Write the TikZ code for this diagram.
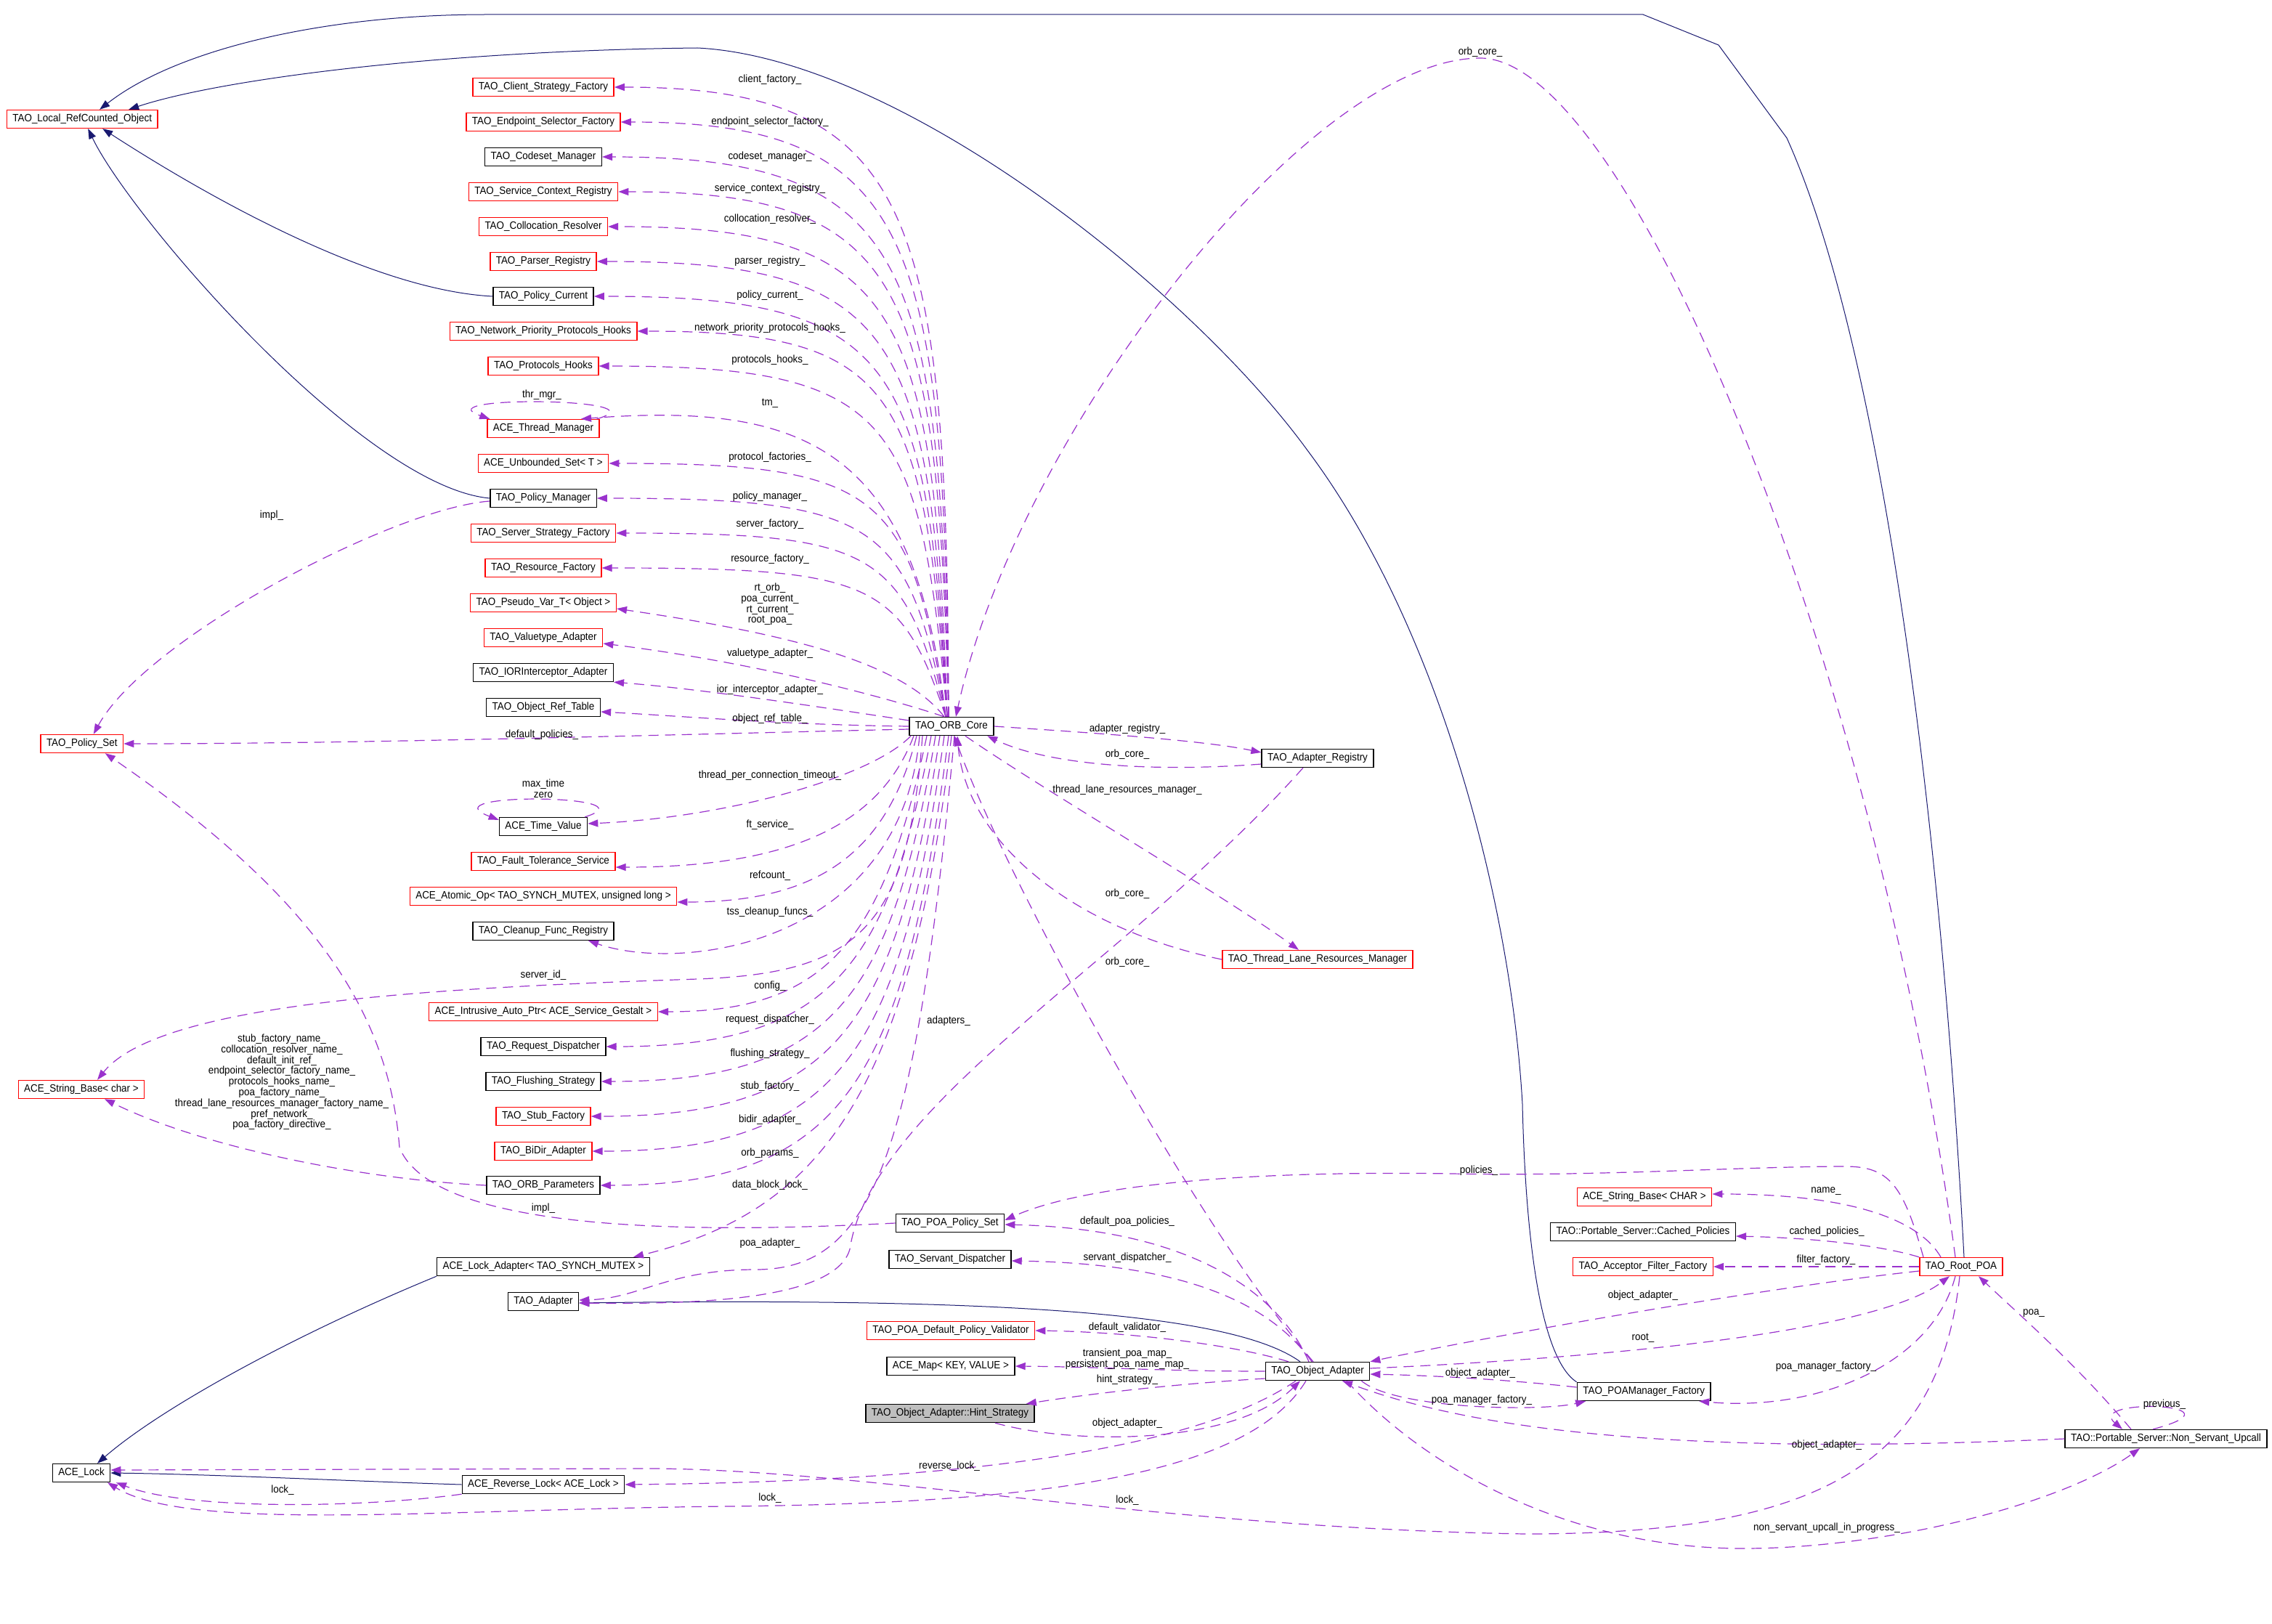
\documentclass[tikz,border=0pt]{standalone}
\usepackage{fontspec}
\newfontfamily\doxfont{Liberation Sans}[FakeStretch=0.92]
\usepackage{xcolor}
\usetikzlibrary{arrows.meta}

\definecolor{inhblue}{HTML}{191970}
\definecolor{usepurple}{HTML}{9A32CD}
\definecolor{focusgray}{HTML}{BFBFBF}

\tikzset{
	cls/.style={rectangle, draw=black, line width=0.7pt, fill=white, text=black,
		font=\doxfont\fontsize{7.3}{7.4}\selectfont, minimum height=12.5pt,
		inner xsep=4pt, inner ysep=0pt},
	undoc/.style={cls, draw=red},
	focus/.style={cls, fill=focusgray},
	lbl/.style={font=\doxfont\fontsize{7.3}{7.4}\selectfont, inner sep=0pt, align=center},
	inh/.style={draw=inhblue, line width=0.5pt, -{Stealth[length=7pt, width=5pt, inset=0pt]}},
	use/.style={draw=usepurple, line width=0.6pt, dash pattern=on 7pt off 4.5pt,
		-{Stealth[length=7pt, width=5pt, inset=0pt]}}
}

\begin{document}
\begin{tikzpicture}[x=1pt, y=-1pt]
	
	\path[use as bounding box, fill=white] (0,0) rectangle (1564,1118);
	
	\node[undoc] (lrc) at (56.6,82) {TAO\_Local\_RefCounted\_Object};
	\node[undoc] (pset) at (56.4,512) {TAO\_Policy\_Set};
	\node[undoc] (sbc) at (56,750) {ACE\_String\_Base< char >};
	\node[cls] (lock) at (56,1014) {ACE\_Lock};
	
	\node[undoc] (csf) at (374,60) {TAO\_Client\_Strategy\_Factory};
	\node[undoc] (esf) at (374,84) {TAO\_Endpoint\_Selector\_Factory};
	\node[cls] (csm) at (374,108) {TAO\_Codeset\_Manager};
	\node[undoc] (scr) at (374,132) {TAO\_Service\_Context\_Registry};
	\node[undoc] (clr) at (374,156) {TAO\_Collocation\_Resolver};
	\node[undoc] (prs) at (374,180) {TAO\_Parser\_Registry};
	\node[cls] (pcur) at (374,204) {TAO\_Policy\_Current};
	\node[undoc] (nph) at (374,228) {TAO\_Network\_Priority\_Protocols\_Hooks};
	\node[undoc] (phk) at (374,252) {TAO\_Protocols\_Hooks};
	\node[undoc] (thm) at (374,295) {ACE\_Thread\_Manager};
	\node[undoc] (ubs) at (374,319) {ACE\_Unbounded\_Set< T >};
	\node[cls] (pman) at (374,343) {TAO\_Policy\_Manager};
	\node[undoc] (ssf) at (374,367) {TAO\_Server\_Strategy\_Factory};
	\node[undoc] (rsf) at (374,391) {TAO\_Resource\_Factory};
	\node[undoc] (pvt) at (374,415) {TAO\_Pseudo\_Var\_T< Object >};
	\node[undoc] (vta) at (374,439) {TAO\_Valuetype\_Adapter};
	\node[cls] (iora) at (374,463) {TAO\_IORInterceptor\_Adapter};
	\node[cls] (ort) at (374,487) {TAO\_Object\_Ref\_Table};
	\node[cls] (tv) at (374,569) {ACE\_Time\_Value};
	\node[undoc] (fts) at (374,593) {TAO\_Fault\_Tolerance\_Service};
	\node[undoc] (aop) at (374,617) {ACE\_Atomic\_Op< TAO\_SYNCH\_MUTEX, unsigned long >};
	\node[cls] (cfr) at (374,641) {TAO\_Cleanup\_Func\_Registry};
	\node[undoc] (iap) at (374,696.5) {ACE\_Intrusive\_Auto\_Ptr< ACE\_Service\_Gestalt >};
	\node[cls] (rqd) at (374,720.5) {TAO\_Request\_Dispatcher};
	\node[cls] (fls) at (374,744.5) {TAO\_Flushing\_Strategy};
	\node[undoc] (stf) at (374,768.5) {TAO\_Stub\_Factory};
	\node[undoc] (bda) at (374,792.5) {TAO\_BiDir\_Adapter};
	\node[cls] (orbp) at (374,816) {TAO\_ORB\_Parameters};
	\node[cls] (lka) at (374,872) {ACE\_Lock\_Adapter< TAO\_SYNCH\_MUTEX >};
	\node[cls] (adp) at (374,896) {TAO\_Adapter};
	\node[cls] (rvl) at (374,1022) {ACE\_Reverse\_Lock< ACE\_Lock >};
	
	\node[cls] (orb) at (655,500) {TAO\_ORB\_Core};
	\node[cls] (pps) at (654,842) {TAO\_POA\_Policy\_Set};
	\node[cls] (svd) at (654,867) {TAO\_Servant\_Dispatcher};
	\node[undoc] (pdv) at (654.5,916) {TAO\_POA\_Default\_Policy\_Validator};
	\node[cls] (amap) at (654.5,940.5) {ACE\_Map< KEY, VALUE >};
	\node[focus] (hint) at (654,973) {TAO\_Object\_Adapter::Hint\_Strategy};
	
	\node[cls] (areg) at (907,522) {TAO\_Adapter\_Registry};
	\node[undoc] (tlrm) at (907,660.5) {TAO\_Thread\_Lane\_Resources\_Manager};
	\node[cls] (oad) at (907,944) {TAO\_Object\_Adapter};
	
	\node[undoc] (sbC) at (1132,824) {ACE\_String\_Base< CHAR >};
	\node[cls] (cpol) at (1131,848) {TAO::Portable\_Server::Cached\_Policies};
	\node[undoc] (aff) at (1131,872) {TAO\_Acceptor\_Filter\_Factory};
	\node[cls] (pmf) at (1131.6,958) {TAO\_POAManager\_Factory};
	\node[undoc] (rpoa) at (1350,872) {TAO\_Root\_POA};
	\node[cls] (nsu) at (1491,990.5) {TAO::Portable\_Server::Non\_Servant\_Upcall};
	
	
	\draw[inh] ([xshift=2pt]rpoa.north) .. controls (1338,600) and (1300,250) .. (1230,95) -- (1183,31) -- (1131,10) -- (335,10) .. controls (220,10) and (120,35) .. ([xshift=12pt]lrc.north);
	\draw[inh] (pmf.north west) .. controls (1060,935) and (1050,850) .. (1048,760) .. controls (1040,620) and (990,430) .. (900,310) .. controls (820,200) and (620,40) .. (480,33) .. controls (300,35) and (150,55) .. ([xshift=32pt]lrc.north);
	\draw[inh] (pcur.west) .. controls (260,200) and (150,140) .. ([xshift=14pt]lrc.south);
	\draw[inh] (pman.west) .. controls (250,335) and (90,150) .. ([xshift=4pt]lrc.south);
	\draw[inh] (lka.south west) .. controls (200,920) and (110,970) .. ([xshift=11pt]lock.north);
	\draw[inh] (rvl.west) .. controls (250,1020) and (150,1015) .. (lock.east);
	\draw[inh] ([xshift=-12pt]oad.north) .. controls (850,905) and (700,893) .. ([yshift=-1pt]adp.east);
	
	
	\draw[use] ([xshift=-2pt]orb.north) .. controls (652,147) and (630,60) .. (csf.east);
	\draw[use] ([xshift=-2pt]orb.north) .. controls (650,163) and (628,84) .. (esf.east);
	\draw[use] ([xshift=-2pt]orb.north) .. controls (647,179) and (626,108) .. (csm.east);
	\draw[use] ([xshift=-2pt]orb.north) .. controls (645,196) and (624,132) .. (scr.east);
	\draw[use] ([xshift=-3pt]orb.north) .. controls (643,213) and (621,156) .. (clr.east);
	\draw[use] ([xshift=-3pt]orb.north) .. controls (640,230) and (619,180) .. (prs.east);
	\draw[use] ([xshift=-3pt]orb.north) .. controls (638,248) and (617,204) .. (pcur.east);
	\draw[use] ([xshift=-3pt]orb.north) .. controls (636,266) and (615,228) .. (nph.east);
	\draw[use] ([xshift=-3pt]orb.north) .. controls (633,285) and (613,252) .. (phk.east);
	\draw[use] ([xshift=-4pt]orb.north) .. controls (630,313) and (560,276) .. ([xshift=26pt]thm.north);
	\draw[use] ([xshift=-4pt]orb.north) .. controls (627,339) and (606,319) .. (ubs.east);
	\draw[use] ([xshift=-4pt]orb.north) .. controls (625,359) and (604,343) .. (pman.east);
	\draw[use] ([xshift=-4pt]orb.north) .. controls (622,379) and (602,367) .. (ssf.east);
	\draw[use] ([xshift=-4pt]orb.north) .. controls (620,400) and (600,391) .. (rsf.east);
	\draw[use] ([xshift=-5pt]orb.north) .. controls (620,455) and (540,436) .. ([yshift=-4pt]pvt.east);
	\draw[use] ([xshift=-5pt]orb.north) .. controls (610,480) and (520,456) .. ([yshift=-4pt]vta.east);
	\draw[use] ([yshift=4pt]orb.west) .. controls (560,486) and (480,474) .. (iora.south east);
	\draw[use] (orb.west) .. controls (540,499) and (470,493) .. ([yshift=-3pt]ort.east);
	\draw[use] ([yshift=-2pt]orb.west) .. controls (450,506) and (250,512) .. (pset.east);
	
	\draw[use] ([xshift=-28pt]orb.south) .. controls (600,535) and (500,563) .. ([yshift=2pt]tv.east);
	\draw[use] ([xshift=-26pt]orb.south) .. controls (605,570) and (540,597) .. ([yshift=-4pt]fts.east);
	\draw[use] ([xshift=-24pt]orb.south) .. controls (610,590) and (560,621) .. ([yshift=-4pt]aop.east);
	\draw[use] ([xshift=-22pt]orb.south) .. controls (620,650) and (470,670) .. ([xshift=31pt]cfr.south);
	\draw[use] ([xshift=-20pt]orb.south) .. controls (625,640) and (590,670) .. (480,674) .. controls (300,680) and (110,690) .. ([xshift=11pt]sbc.north);
	\draw[use] ([xshift=-17pt]orb.south) .. controls (608,649) and (568,696.5) .. (iap.east);
	\draw[use] ([xshift=-14pt]orb.south) .. controls (611,667) and (571,720.5) .. (rqd.east);
	\draw[use] ([xshift=-11pt]orb.south) .. controls (614,685) and (574,744.5) .. (fls.east);
	\draw[use] ([xshift=-8pt]orb.south) .. controls (617,703) and (577,768.5) .. (stf.east);
	\draw[use] ([xshift=-5pt]orb.south) .. controls (620,721) and (580,792.5) .. (bda.east);
	\draw[use] ([xshift=-2pt]orb.south) .. controls (623,738.5) and (583,816) .. (orbp.east);
	\draw[use] (orb.south) .. controls (626,760) and (560,835) .. ([xshift=62pt]lka.north);
	\draw[use] ([xshift=2pt]orb.south) .. controls (630,800) and (600,874) .. (520,874) .. controls (460,874) and (440,894) .. ([yshift=1pt]adp.east);
	
	\draw[use] ([xshift=-2pt]thm.north east) .. controls (460,274) and (290,272) .. ([xshift=2pt]thm.north west);
	\draw[use] ([xshift=-2pt]tv.north east) .. controls (452,547) and (292,545) .. ([yshift=-2pt]tv.north west);
	\draw[use] ([yshift=-2pt]pman.west) .. controls (270,350) and (100,440) .. ([xshift=8pt]pset.north);
	\draw[use] (pps.west) .. controls (500,848) and (300,852) .. (275,790) .. controls (268,700) and (220,620) .. ([xshift=16pt]pset.south);
	\draw[use] (orbp.west) .. controls (250,812) and (140,790) .. ([xshift=16pt]sbc.south);
	
	\draw[use] (orb.east) .. controls (760,505) and (830,510) .. ([yshift=4pt]areg.west);
	\draw[use] ([yshift=-4pt]areg.west) .. controls (790,532) and (720,526) .. (orb.-15);
	\draw[use] ([xshift=-10pt]areg.south) .. controls (780,660) and (600,760) .. (585,860) .. controls (575,895) and (480,898) .. ([yshift=-1pt]adp.east);
	\draw[use] (orb.-35) .. controls (720,545) and (840,615) .. ([xshift=-13pt]tlrm.north);
	\draw[use] (tlrm.west) .. controls (740,640) and (665,580) .. ([xshift=4pt]orb.south);
	\draw[use] ([xshift=-3pt]oad.north) .. controls (820,840) and (690,600) .. ([xshift=2pt]orb.south);
	\draw[use] ([xshift=-4pt]rpoa.north) .. controls (1290,450) and (1120,40) .. (1019,40) .. controls (900,40) and (700,300) .. ([xshift=3pt]orb.north);
	
	\draw[use] ([xshift=-6pt]oad.north) .. controls (880,890) and (820,846) .. ([yshift=-1pt]pps.east);
	\draw[use] ([xshift=-4pt]oad.north) .. controls (880,905) and (830,870) .. ([yshift=-1pt]svd.east);
	\draw[use] ([xshift=-20pt]oad.north) .. controls (850,926) and (780,917) .. (pdv.east);
	\draw[use] (oad.west) .. controls (800,944) and (760,941) .. (amap.east);
	\draw[use] ([yshift=-5pt]oad.west) .. controls (820,952) and (760,958) .. ([xshift=-6pt]hint.north east);
	\draw[use] ([xshift=31pt]hint.south) .. controls (740,995) and (850,995) .. ([xshift=-12pt]oad.south);
	\draw[use] ([xshift=-15pt]oad.south) .. controls (820,1000) and (650,1020) .. (rvl.east);
	\draw[use] ([xshift=-8pt]oad.south) .. controls (860,1015) and (720,1035) .. (500,1037) .. controls (300,1039) and (130,1055) .. ([xshift=18pt]lock.south);
	\draw[use] (rvl.south west) .. controls (250,1038) and (130,1040) .. ([xshift=24pt]lock.south);
	\draw[use] ([xshift=-1pt]rpoa.south) .. controls (1335,1010) and (1250,1056) .. (1050,1056) .. controls (800,1052) and (600,1012) .. (450,1011) -- ([yshift=2pt]lock.east);
	
	\draw[use] ([xshift=-26pt]rpoa.north) .. controls (1310,815) and (1300,803) .. (1270,803) .. controls (1200,803) and (1100,810) .. (1000,808) .. controls (800,805) and (725,825) .. ([yshift=2pt]pps.east);
	\draw[use] ([xshift=-14pt]rpoa.north) .. controls (1320,838) and (1270,822) .. ([yshift=2pt]sbC.east);
	\draw[use] (rpoa.north west) .. controls (1290,856) and (1240,852) .. ([yshift=-3pt]cpol.east);
	\draw[use] (rpoa.west) -- (aff.east);
	\draw[use] ([yshift=-3pt]rpoa.west) .. controls (1200,888) and (1000,925) .. (oad.north east);
	\draw[use] ([yshift=2pt]oad.east) .. controls (1100,935) and (1290,918) .. ([xshift=-8pt]rpoa.south);
	\draw[use] ([yshift=3pt]pmf.west) .. controls (1040,950) and (990,947) .. ([yshift=-2pt]oad.east);
	\draw[use] ([xshift=-6pt]oad.south east) .. controls (960,970) and (1060,972) .. ([xshift=-40pt]pmf.south);
	\draw[use] ([xshift=-4pt]rpoa.south) .. controls (1330,940) and (1250,972) .. ([xshift=38pt]pmf.south);
	\draw[use] ([xshift=-24pt]nsu.north) .. controls (1430,940) and (1390,905) .. ([xshift=12pt]rpoa.south);
	\draw[use] ([xshift=-9pt]nsu.north) .. controls (1550,966) and (1435,962) .. ([xshift=-30pt]nsu.north);
	\draw[use] (nsu.west) .. controls (1250,998) and (1050,998) .. ([xshift=17pt]oad.south);
	\draw[use] ([xshift=20pt]oad.south) .. controls (980,1010) and (1080,1066) .. (1200,1066) .. controls (1300,1066) and (1420,1035) .. ([xshift=-18pt]nsu.south);
	
	
	\node[lbl] (lbcsf) at (530,55) {client\_factory\_};
	\node[lbl] (lbesf) at (530,84) {endpoint\_selector\_factory\_};
	\node[lbl] (lbcsm) at (530,108) {codeset\_manager\_};
	\node[lbl] (lbscr) at (530,130) {service\_context\_registry\_};
	\node[lbl] (lbclr) at (530,151) {collocation\_resolver\_};
	\node[lbl] (lbprs) at (530,180) {parser\_registry\_};
	\node[lbl] (lbpcur) at (530,203.6) {policy\_current\_};
	\node[lbl] (lbnph) at (530,226) {network\_priority\_protocols\_hooks\_};
	\node[lbl] (lbphk) at (530,248) {protocols\_hooks\_};
	\node[lbl] (lbthr) at (373,272) {thr\_mgr\_};
	\node[lbl] (lbtm) at (530,277.7) {tm\_};
	\node[lbl] (lbubs) at (530,315) {protocol\_factories\_};
	\node[lbl] (lbpman) at (530,342) {policy\_manager\_};
	\node[lbl] (lbssf) at (530,361) {server\_factory\_};
	\node[lbl] (lbrsf) at (530,385) {resource\_factory\_};
	\node[lbl] (lbpvt) at (530,416) {rt\_orb\_\\poa\_current\_\\rt\_current\_\\root\_poa\_};
	\node[lbl] (lbvta) at (530,450) {valuetype\_adapter\_};
	\node[lbl] (lbiora) at (530,475) {ior\_interceptor\_adapter\_};
	\node[lbl] (lbort) at (530,495) {object\_ref\_table\_};
	\node[lbl] (lbdpol) at (373,506) {default\_policies\_};
	\node[lbl] (lbtv) at (374,543) {max\_time\\zero};
	\node[lbl] (lbtpc) at (530,534) {thread\_per\_connection\_timeout\_};
	\node[lbl] (lbfts) at (530,567.6) {ft\_service\_};
	\node[lbl] (lbaop) at (530,603) {refcount\_};
	\node[lbl] (lbcfr) at (530,628) {tss\_cleanup\_funcs\_};
	\node[lbl] (lbsid) at (374,671.5) {server\_id\_};
	\node[lbl] (lbiap) at (530,679) {config\_};
	\node[lbl] (lbrqd) at (530,702) {request\_dispatcher\_};
	\node[lbl] (lbfls) at (530,725.4) {flushing\_strategy\_};
	\node[lbl] (lbstf) at (530,748) {stub\_factory\_};
	\node[lbl] (lbbda) at (530,771) {bidir\_adapter\_};
	\node[lbl] (lborbp) at (530,794) {orb\_params\_};
	\node[lbl] (lblka) at (530,816) {data\_block\_lock\_};
	\node[lbl] (lbimpl) at (374,832) {impl\_};
	\node[lbl] (lbadp) at (530,856) {poa\_adapter\_};
	\node[lbl] (lbimplpm) at (187,355) {impl\_};
	\node[lbl] (lbsbc) at (194,745) {stub\_factory\_name\_\\collocation\_resolver\_name\_\\default\_init\_ref\_\\endpoint\_selector\_factory\_name\_\\protocols\_hooks\_name\_\\poa\_factory\_name\_\\thread\_lane\_resources\_manager\_factory\_name\_\\pref\_network\_\\poa\_factory\_directive\_};
	
	\node[lbl] (lbareg) at (776,502) {adapter\_registry\_};
	\node[lbl] (lbocreg) at (776,519.3) {orb\_core\_};
	\node[lbl] (lbtlrm) at (776,543.7) {thread\_lane\_resources\_manager\_};
	\node[lbl] (lboctl) at (776,615.3) {orb\_core\_};
	\node[lbl] (lbocoa) at (776,662.3) {orb\_core\_};
	\node[lbl] (lbadapters) at (653,703) {adapters\_};
	\node[lbl] (lbocrp) at (1019,36) {orb\_core\_};
	
	\node[lbl] (lbdpp) at (776,841) {default\_poa\_policies\_};
	\node[lbl] (lbsvd) at (776,866) {servant\_dispatcher\_};
	\node[lbl] (lbpdv) at (776,914) {default\_validator\_};
	\node[lbl] (lbamap) at (776,935.5) {transient\_poa\_map\_\\persistent\_poa\_name\_map\_};
	\node[lbl] (lbhint) at (776,950) {hint\_strategy\_};
	\node[lbl] (lboahint) at (776,980) {object\_adapter\_};
	\node[lbl] (lbrvl) at (653.5,1009.5) {reverse\_lock\_};
	\node[lbl] (lblockoa) at (530,1031.5) {lock\_};
	\node[lbl] (lblockrp) at (776,1033) {lock\_};
	\node[lbl] (lblockrv) at (194.5,1026) {lock\_};
	
	\node[lbl] (lbpolicies) at (1018,806) {policies\_};
	\node[lbl] (lbname) at (1257,820) {name\_};
	\node[lbl] (lbcpol) at (1257.5,848) {cached\_policies\_};
	\node[lbl] (lbaff) at (1257,867.5) {filter\_factory\_};
	\node[lbl] (lboarp) at (1131,892) {object\_adapter\_};
	\node[lbl] (lbroot) at (1131,921) {root\_};
	\node[lbl] (lboapmf) at (1019,945.6) {object\_adapter\_};
	\node[lbl] (lbpmfoa) at (1020,964) {poa\_manager\_factory\_};
	\node[lbl] (lbpmfrp) at (1257,941) {poa\_manager\_factory\_};
	\node[lbl] (lbpoa) at (1400,904) {poa\_};
	\node[lbl] (lbprev) at (1490,967) {previous\_};
	\node[lbl] (lboansu) at (1257.5,995) {object\_adapter\_};
	\node[lbl] (lbnsu) at (1257.5,1052) {non\_servant\_upcall\_in\_progress\_};
	
\end{tikzpicture}
\end{document}
